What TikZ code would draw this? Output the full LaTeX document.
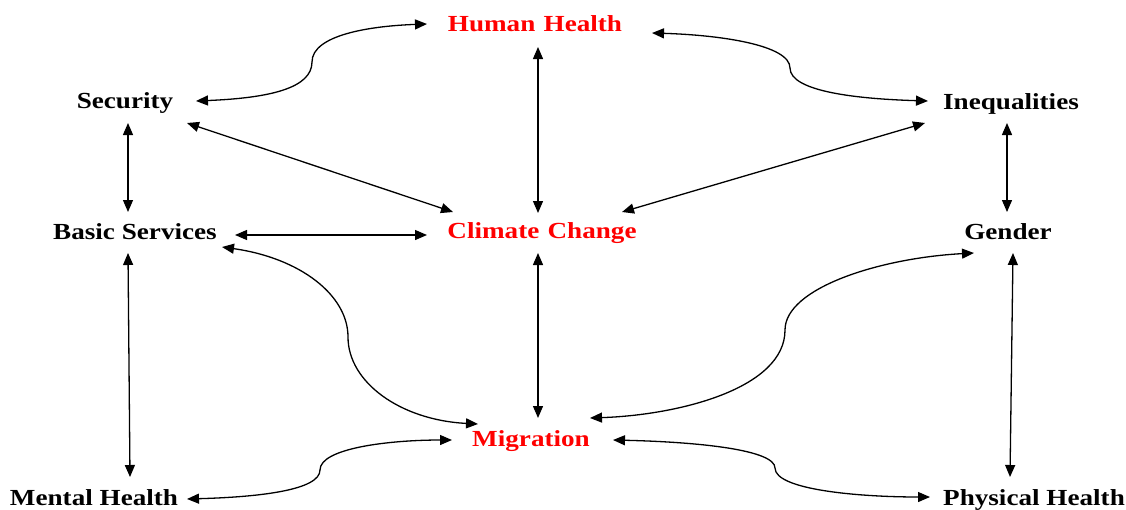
\documentclass[tikz,border=0pt]{standalone}
\usepackage{fontspec}
\setmainfont{Liberation Serif}[FakeStretch=1.18]
\usetikzlibrary{arrows.meta}
\definecolor{hred}{RGB}{255,0,0}
\tikzset{
  lbl/.style={anchor=base, inner sep=0pt, font=\fontsize{23}{27}\selectfont\bfseries},
  keylbl/.style={lbl, text=hred},
  link/.style={line width=1.3pt, {Triangle[length=12pt,width=10pt]}-{Triangle[length=12pt,width=10pt]}}
}
\begin{document}
\begin{tikzpicture}[x=1pt,y=-1pt]
\useasboundingbox (0,0) rectangle (1126,509);
% nodes
\node[keylbl] (hh)  at (535,31)  {Human\hspace{0.36em}Health};
\node[lbl]    (sec) at (125,108) {Security};
\node[lbl]    (ineq) at (1011,109) {Inequalities};
\node[lbl]    (bs)  at (135,239) {Basic Services};
\node[keylbl] (cc)  at (542,238) {Climate\hspace{0.36em}Change};
\node[lbl]    (gen) at (1008,239) {Gender};
\node[keylbl] (mig) at (531,446) {Migration};
\node[lbl]    (mh)  at (94,505)  {Mental Health};
\node[lbl]    (ph)  at (1034,505) {Physical Health};
% connector end points
\coordinate (hh-w) at (427,24);
\coordinate (hh-e) at (652,33);
\coordinate (hh-s) at (538,47);
\coordinate (sec-e) at (196,101);
\coordinate (sec-se) at (187,123);
\coordinate (sec-s) at (128,123);
\coordinate (ineq-w) at (928,101);
\coordinate (ineq-sw) at (925,123);
\coordinate (ineq-s) at (1007,123);
\coordinate (cc-n) at (538,213);
\coordinate (cc-nw) at (453,212);
\coordinate (cc-ne) at (622,212);
\coordinate (cc-w) at (427,235);
\coordinate (cc-s) at (538,253);
\coordinate (bs-n) at (128,212);
\coordinate (bs-e) at (235,235);
\coordinate (bs-se) at (222,247);
\coordinate (bs-s) at (128,253);
\coordinate (gen-n) at (1007,212);
\coordinate (gen-sw) at (974,253);
\coordinate (gen-s) at (1013,253);
\coordinate (mig-n) at (538,418);
\coordinate (mig-nw) at (478,424);
\coordinate (mig-ne) at (590,418);
\coordinate (mig-w) at (452,440);
\coordinate (mig-e) at (613,440);
\coordinate (mh-n) at (130,477);
\coordinate (mh-e) at (187,499);
\coordinate (ph-n) at (1010,477);
\coordinate (ph-w) at (930,497);
% connectors
\draw[link] (sec-e) .. controls (270,98) and (312,88) .. (312,62) .. controls (312,35) and (370,26) .. (hh-w);
\draw[link] (hh-e) .. controls (720,35) and (790,45) .. (790,68) .. controls (790,92) and (860,99) .. (ineq-w);
\draw[link] (hh-s) -- (cc-n);
\draw[link] (sec-se) -- (cc-nw);
\draw[link] (ineq-sw) -- (cc-ne);
\draw[link] (sec-s) -- (bs-n);
\draw[link] (bs-e) -- (cc-w);
\draw[link] (ineq-s) -- (gen-n);
\draw[link] (bs-se) .. controls (300,258) and (348,295) .. (348,337) .. controls (348,382) and (400,420) .. (mig-nw);
\draw[link] (cc-s) -- (mig-n);
\draw[link] (gen-sw) .. controls (880,258) and (785,288) .. (785,330) .. controls (785,388) and (680,415) .. (mig-ne);
\draw[link] (bs-s) -- (mh-n);
\draw[link] (gen-s) -- (ph-n);
\draw[link] (mh-e) .. controls (260,497) and (320,490) .. (320,470) .. controls (320,448) and (390,440) .. (mig-w);
\draw[link] (mig-e) .. controls (700,442) and (775,450) .. (775,468) .. controls (775,490) and (860,497) .. (ph-w);
\end{tikzpicture}
\end{document}
